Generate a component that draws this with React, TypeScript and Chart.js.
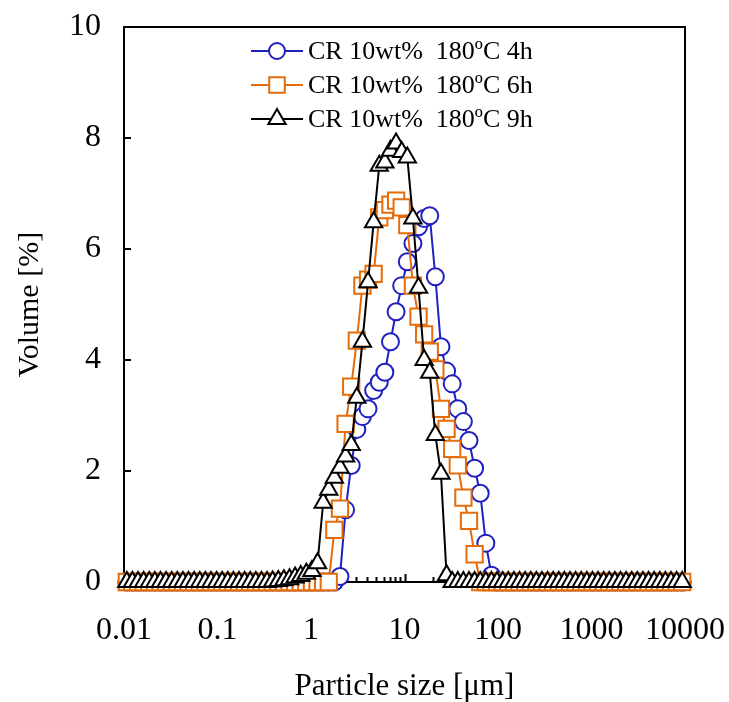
import React, { useEffect, useRef } from "react";
import { Chart, registerables } from "chart.js";

Chart.register(...registerables);

// Particle size classes (µm), log-spaced instrument bins
const sizeClasses = [
  0.010715, 0.012303, 0.014125, 0.016218, 0.018621, 0.02138, 0.024547, 0.028184, 0.032359, 0.037154,
  0.042658, 0.048978, 0.056234, 0.064565, 0.074131, 0.085114, 0.097724, 0.1122, 0.12882, 0.14791,
  0.16982, 0.19498, 0.22387, 0.25704, 0.29512, 0.33884, 0.38905, 0.44668, 0.51286, 0.58884,
  0.67608, 0.77625, 0.89125, 1.0233, 1.1749, 1.349, 1.5488, 1.7783, 2.0417, 2.3442,
  2.6915, 3.0903, 3.5481, 4.0738, 4.6774, 5.3703, 6.166, 7.0795, 8.1283, 9.3325,
  10.715, 12.303, 14.125, 16.218, 18.621, 21.38, 24.547, 28.184, 32.359, 37.154,
  42.658, 48.978, 56.234, 64.565, 74.131, 85.114, 97.724, 112.2, 128.82, 147.91,
  169.82, 194.98, 223.87, 257.04, 295.12, 338.84, 389.05, 446.68, 512.86, 588.84,
  676.08, 776.25, 891.25, 1023.3, 1174.9, 1349.0, 1548.8, 1778.3, 2041.7, 2344.2,
  2691.5, 3090.3, 3548.1, 4073.8, 4677.4, 5370.3, 6166.0, 7079.5, 8128.3, 9332.5,
];

// Volume distribution (%) for each reaction time
const vol4h = [
  0, 0, 0, 0, 0, 0, 0, 0, 0, 0,
  0, 0, 0, 0, 0, 0, 0, 0, 0, 0,
  0, 0, 0, 0, 0, 0, 0, 0, 0, 0,
  0, 0, 0, 0, 0, 0, 0, 0, 0.1, 1.3,
  2.1, 2.75, 2.98, 3.12, 3.45, 3.6, 3.78, 4.33, 4.87, 5.34,
  5.77, 6.1, 6.4, 6.55, 6.6, 5.5, 4.24, 3.8, 3.57, 3.12,
  2.89, 2.55, 2.05, 1.6, 0.7, 0.12, 0, 0, 0, 0,
  0, 0, 0, 0, 0, 0, 0, 0, 0, 0,
  0, 0, 0, 0, 0, 0, 0, 0, 0, 0,
  0, 0, 0, 0, 0, 0, 0, 0, 0, 0,
];

const vol6h = [
  0, 0, 0, 0, 0, 0, 0, 0, 0, 0,
  0, 0, 0, 0, 0, 0, 0, 0, 0, 0,
  0, 0, 0, 0, 0, 0, 0, 0, 0, 0,
  0, 0, 0, 0, 0, 0, 0, 0.94, 1.32, 2.85,
  3.52, 4.35, 5.34, 5.45, 5.55, 6.57, 6.7, 6.8, 6.87, 6.75,
  6.43, 5.34, 4.78, 4.46, 4.15, 3.83, 3.12, 2.76, 2.4, 2.1,
  1.52, 1.1, 0.5, 0, 0, 0, 0, 0, 0, 0,
  0, 0, 0, 0, 0, 0, 0, 0, 0, 0,
  0, 0, 0, 0, 0, 0, 0, 0, 0, 0,
  0, 0, 0, 0, 0, 0, 0, 0, 0, 0,
];

const vol9h = [
  0, 0, 0, 0, 0, 0, 0, 0, 0, 0,
  0, 0, 0, 0, 0, 0, 0, 0, 0, 0,
  0, 0, 0, 0, 0, 0, 0.01, 0.02, 0.03, 0.05,
  0.08, 0.11, 0.15, 0.2, 0.34, 1.43, 1.66, 1.88, 2.06, 2.26,
  2.47, 3.32, 4.33, 5.4, 6.48, 7.5, 7.56, 7.77, 7.9, 7.75,
  7.65, 6.55, 5.3, 4.0, 3.77, 2.65, 1.95, 0.12, 0, 0,
  0, 0, 0, 0, 0, 0, 0, 0, 0, 0,
  0, 0, 0, 0, 0, 0, 0, 0, 0, 0,
  0, 0, 0, 0, 0, 0, 0, 0, 0, 0,
  0, 0, 0, 0, 0, 0, 0, 0, 0, 0,
];

const seriesLabels = ["CR 10wt%  180\u00BAC 4h", "CR 10wt%  180\u00BAC 6h", "CR 10wt%  180\u00BAC 9h"];
const xTickValues = [0.01, 0.1, 1, 10, 100, 1000, 10000];
const yTickValues = [0, 2, 4, 6, 8, 10];

const FONT = "'Liberation Serif', 'Times New Roman', serif";
const BLUE = "#2020C0";
const ORANGE = "#E46C0A";
const BLACK = "#000000";

type MarkerStyle = "circle" | "rect" | "triangle";

function drawMarker(ctx: CanvasRenderingContext2D, style: MarkerStyle, x: number, y: number, r: number) {
  ctx.beginPath();
  if (style === "circle") {
    ctx.arc(x, y, r, 0, Math.PI * 2);
  } else if (style === "rect") {
    const s = r * Math.SQRT1_2;
    ctx.rect(x - s, y - s, 2 * s, 2 * s);
  } else {
    ctx.moveTo(x, y - r);
    ctx.lineTo(x + r * 0.866, y + r / 2);
    ctx.lineTo(x - r * 0.866, y + r / 2);
    ctx.closePath();
  }
  ctx.fill();
  ctx.stroke();
}

// Box frame with inward ticks, drawn beneath the data
const framePlugin = {
  id: "frame",
  beforeDatasetsDraw(chart: any) {
    const { ctx, chartArea, scales } = chart;
    const { left, right, top, bottom } = chartArea;
    ctx.save();
    ctx.strokeStyle = "#000";
    ctx.lineWidth = 2;
    ctx.strokeRect(left, top, right - left, bottom - top);
    ctx.beginPath();
    for (const v of yTickValues) {
      const py = Math.round(scales.y.getPixelForValue(v));
      ctx.moveTo(left, py);
      ctx.lineTo(left + 7, py);
    }
    for (let d = 0; d < xTickValues.length - 1; d++) {
      for (let m = 1; m <= 9; m++) {
        const v = xTickValues[d] * m;
        const px = Math.round(scales.x.getPixelForValue(v)) + 0.5;
        const len = m === 1 ? 8 : 5;
        ctx.moveTo(px, bottom);
        ctx.lineTo(px, bottom - len);
      }
    }
    ctx.stroke();
    ctx.restore();
  },
};

// Legend with line-through markers inside the plot area
const legendPlugin = {
  id: "innerLegend",
  afterDatasetsDraw(chart: any) {
    const { ctx, chartArea } = chart;
    const { left, top } = chartArea;
    ctx.save();
    chart.data.datasets.forEach((ds: any, i: number) => {
      const y = top + 24 + i * 34;
      ctx.strokeStyle = ds.borderColor;
      ctx.lineWidth = 2;
      ctx.beginPath();
      ctx.moveTo(left + 127, y);
      ctx.lineTo(left + 179, y);
      ctx.stroke();
      ctx.fillStyle = "#fff";
      drawMarker(ctx, ds.pointStyle, left + 153, y, ds.legendRadius);
      ctx.fillStyle = "#000";
      ctx.font = `26px ${FONT}`;
      ctx.textBaseline = "middle";
      ctx.textAlign = "left";
      ctx.fillText(ds.label, left + 184, y + 1);
    });
    ctx.restore();
  },
};

const noEdgePadding = (scale: any) => {
  scale.paddingLeft = 0;
  scale.paddingRight = 0;
  scale.paddingTop = 0;
  scale.paddingBottom = 0;
};

export default function App() {
  const canvasRef = useRef<HTMLCanvasElement | null>(null);

  useEffect(() => {
    const canvas = canvasRef.current;
    if (!canvas) return;

    const makeSeries = (values: number[]) => sizeClasses.map((s, i) => ({ x: s, y: values[i] }));

    const common = {
      showLine: true,
      borderWidth: 2,
      pointBorderWidth: 2,
      pointBackgroundColor: "#ffffff",
      backgroundColor: "#ffffff",
      clip: false,
      tension: 0,
    };

    const chart = new Chart(canvas, {
      type: "scatter",
      data: {
        datasets: [
          {
            ...common,
            label: seriesLabels[0],
            data: makeSeries(vol4h),
            borderColor: BLUE,
            pointBorderColor: BLUE,
            pointStyle: "circle",
            pointRadius: 8.5,
            legendRadius: 8,
            order: 3,
          } as any,
          {
            ...common,
            label: seriesLabels[1],
            data: makeSeries(vol6h),
            borderColor: ORANGE,
            pointBorderColor: ORANGE,
            pointStyle: "rect",
            pointRadius: 11.5,
            legendRadius: 11,
            order: 2,
          } as any,
          {
            ...common,
            label: seriesLabels[2],
            data: makeSeries(vol9h),
            borderColor: BLACK,
            pointBorderColor: BLACK,
            pointStyle: "triangle",
            pointRadius: 10,
            legendRadius: 10,
            order: 1,
          } as any,
        ],
      },
      options: {
        animation: false,
        responsive: false,
        events: [],
        layout: { padding: { top: 27, right: 44, left: 0, bottom: 0 } },
        plugins: {
          legend: { display: false },
          tooltip: { enabled: false },
        },
        scales: {
          x: {
            type: "logarithmic",
            min: 0.01,
            max: 10000,
            grid: { display: false, drawTicks: false },
            border: { display: false },
            afterFit: (scale: any) => {
              scale.height = 120;
              noEdgePadding(scale);
            },
            afterBuildTicks: (scale: any) => {
              scale.ticks = xTickValues.map((v) => ({ value: v }));
            },
            ticks: {
              autoSkip: false,
              maxRotation: 0,
              padding: 29,
              color: "#000",
              font: { family: FONT, size: 32 },
              callback: (v: any) => String(v),
            },
            title: {
              display: true,
              text: "Particle size [\u03BCm]",
              color: "#000",
              font: { family: FONT, size: 31, lineHeight: 1 },
              padding: { top: 0, bottom: 0 },
            },
          },
          y: {
            min: 0,
            max: 10,
            grid: { display: false, drawTicks: false },
            border: { display: false },
            afterFit: (scale: any) => {
              scale.width = 124;
              noEdgePadding(scale);
            },
            afterBuildTicks: (scale: any) => {
              scale.ticks = yTickValues.map((v) => ({ value: v }));
            },
            ticks: {
              padding: 23,
              color: "#000",
              font: { family: FONT, size: 32 },
            },
            title: {
              display: true,
              text: "Volume [%]",
              color: "#000",
              font: { family: FONT, size: 30, lineHeight: 1 },
              padding: { top: 15, bottom: 0 },
            },
          },
        },
      } as any,
      plugins: [framePlugin, legendPlugin],
    });

    return () => chart.destroy();
  }, []);

  return (
    <div style={{ position: "fixed", left: 0, top: 0, width: 729, height: 702, background: "#fff" }}>
      <canvas ref={canvasRef} width={729} height={702} style={{ display: "block" }} />
    </div>
  );
}
